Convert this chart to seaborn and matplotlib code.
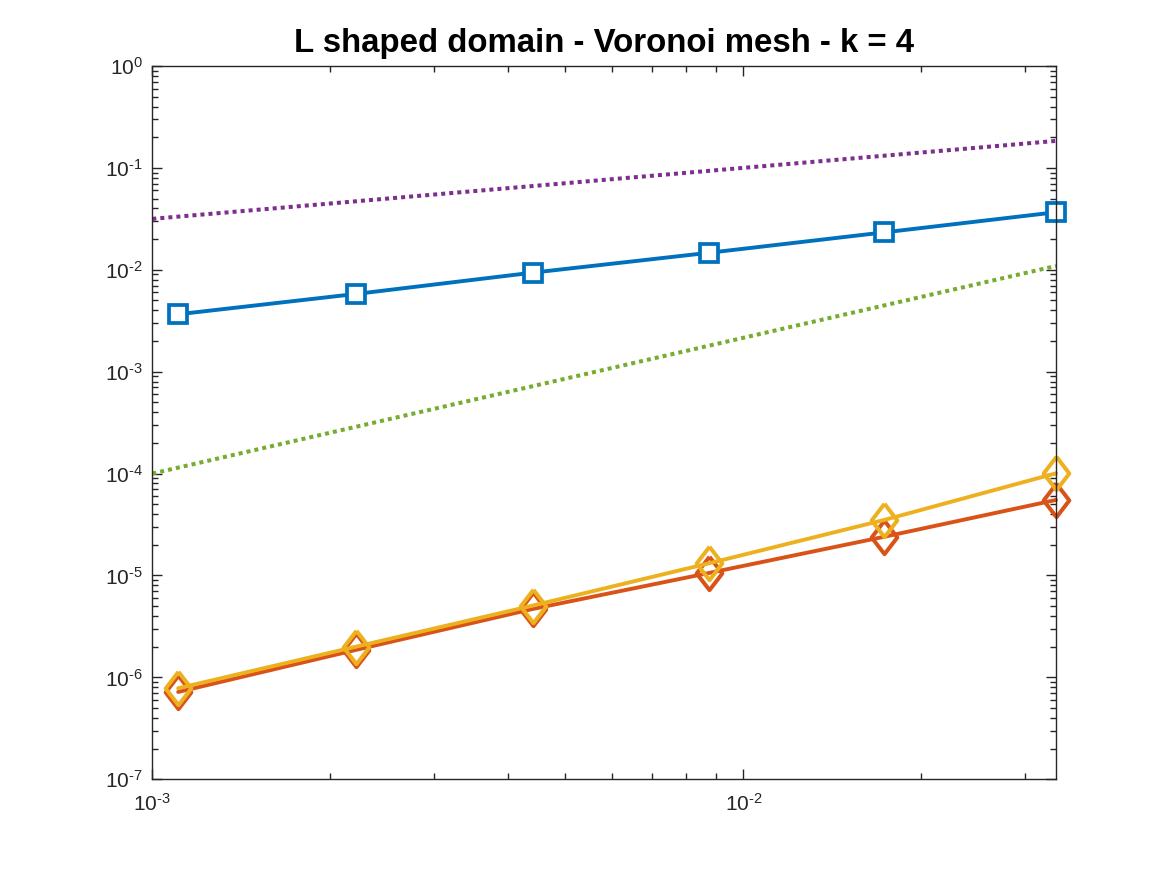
import numpy as np
import pandas as pd
import seaborn as sns
import matplotlib
matplotlib.use("Agg")
import matplotlib.pyplot as plt
from matplotlib.ticker import LogLocator, NullFormatter, FuncFormatter

# mesh sizes and errors
h = [1.106e-3, 2.21e-3, 4.40e-3, 8.76e-3, 1.732e-2, 3.38e-2]
err_blue = [3.66e-3, 5.79e-3, 9.37e-3, 1.47e-2, 2.33e-2, 3.67e-2]
err_red = [7.19e-7, 1.86e-6, 4.69e-6, 1.06e-5, 2.40e-5, 5.51e-5]
err_yellow = [7.82e-7, 2.00e-6, 5.06e-6, 1.32e-5, 3.51e-5, 1.007e-4]

# reference slopes (end points)
ref_x = [1e-3, 3.38e-2]
ref_half = [3.16e-2, 1.84e-1]
ref_43 = [1.0e-4, 1.09e-2]

x_lim = [1e-3, 3.38e-2]
y_lim = [1e-7, 1e0]
x_ticks = [1e-3, 1e-2]
y_ticks = [1e-7, 1e-6, 1e-5, 1e-4, 1e-3, 1e-2, 1e-1, 1e0]

title = "L shaped domain - Voronoi mesh - k = 4"

sns.set_style("ticks")
plt.rcParams['font.family'] = ['Liberation Sans', 'DejaVu Sans']
plt.rcParams['mathtext.fontset'] = 'custom'
plt.rcParams['mathtext.rm'] = 'Liberation Sans'
plt.rcParams['mathtext.it'] = 'Liberation Sans:italic'
plt.rcParams['mathtext.bf'] = 'Liberation Sans:bold'
plt.rcParams['axes.unicode_minus'] = False

blue = "#0072BD"
red = "#D95319"
yellow = "#EDB120"
purple = "#7E2F8E"
green = "#77AC30"
dark = "#262626"


def pow10(v, pos):
    # matlab style label: 10 with a short hyphen in the exponent
    e = int(round(np.log10(v)))
    s = str(e).replace("-", "\u2010")
    return "$\\mathdefault{10^{%s}}$" % s


fig = plt.figure(figsize=(11.67, 8.75), dpi=100)
ax = fig.add_axes([0.1305, 0.1094, 0.7744, 0.8152])

dot = (0, (1, 1))
sns.lineplot(x=ref_x, y=ref_half, ax=ax, color=purple, lw=2.9,
             linestyle=dot, dash_capstyle="butt")
sns.lineplot(x=ref_x, y=ref_43, ax=ax, color=green, lw=2.9,
             linestyle=dot, dash_capstyle="butt")

diamond = [(0, 1), (0.77, 0), (0, -1), (-0.77, 0), (0, 1)]
sns.lineplot(x=h, y=err_blue, ax=ax, color=blue, lw=2.8, marker="s",
             markersize=13.5, markerfacecolor="white", markeredgecolor=blue,
             markeredgewidth=2.7, clip_on=False)
sns.lineplot(x=h, y=err_red, ax=ax, color=red, lw=2.8, marker=diamond,
             markersize=24, markerfacecolor="none", markeredgecolor=red,
             markeredgewidth=2.9, clip_on=False)
sns.lineplot(x=h, y=err_yellow, ax=ax, color=yellow, lw=2.8, marker=diamond,
             markersize=24, markerfacecolor="none", markeredgecolor=yellow,
             markeredgewidth=2.9, clip_on=False)

ax.set_xscale("log")
ax.set_yscale("log")
ax.set_xlim(x_lim)
ax.set_ylim(y_lim)
ax.set_xticks(x_ticks)
ax.set_yticks(y_ticks)
ax.xaxis.set_major_formatter(FuncFormatter(pow10))
ax.yaxis.set_major_formatter(FuncFormatter(pow10))
ax.xaxis.set_minor_locator(LogLocator(base=10, subs=np.arange(2, 10), numticks=20))
ax.yaxis.set_minor_locator(LogLocator(base=10, subs=np.arange(2, 10), numticks=20))
ax.xaxis.set_minor_formatter(NullFormatter())
ax.yaxis.set_minor_formatter(NullFormatter())

for s in ax.spines.values():
    s.set_visible(True)
    s.set_color(dark)
    s.set_linewidth(1.0)
ax.tick_params(which="both", direction="in", top=True, right=True,
               color=dark, labelcolor=dark, labelsize=15, width=1.0)
ax.tick_params(which="major", length=7)
ax.tick_params(which="minor", length=4)
ax.tick_params(axis="y", pad=7)
ax.tick_params(axis="x", pad=10)

ax.set_title(title, fontsize=23.8, fontweight="bold", color="black", pad=10)
ax.set_xlabel("")
ax.set_ylabel("")

fig.savefig("out.png", dpi=100)
